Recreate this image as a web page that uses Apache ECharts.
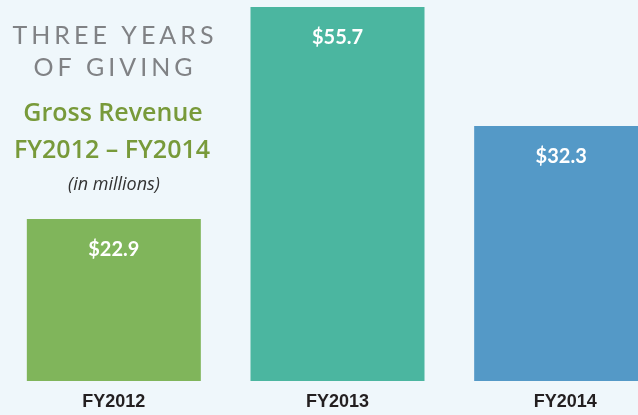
<!DOCTYPE html>
<html>
<head>
<meta charset="utf-8">
<script src="https://cdn.jsdelivr.net/npm/echarts@6/dist/echarts.min.js"></script>
<style>
html,body{margin:0;padding:0;background:#eff7fb;}
#c{width:638px;height:415px;}
</style>
</head>
<body>
<div id="c"></div>
<script>
// Data
var categories = ['FY2012', 'FY2013', 'FY2014'];
var revenue = [22.9, 55.7, 32.3];          // labelled values ($ millions)
var barHeights = [162, 374, 255];          // drawn bar heights (relative units)
var barColors = ['#80b55b', '#4bb6a0', '#5499c7'];
var titleLines = ['THREE YEARS', 'OF GIVING'];
var subtitleLines = ['Gross Revenue', 'FY2012 \u2013 FY2014'];
var noteText = '(in millions)';

function spaced(str) {
  return str.split('').map(function (ch) { return '{s|' + ch + '}'; }).join('');
}

var chart = echarts.init(document.getElementById('c'), null, {renderer: 'canvas'});

var titleRich = { s: { fontFamily: 'Lato', fontSize: 25, fill: '#808285', padding: [0, 2] } };

var option = {
  backgroundColor: '#eff7fb',
  animation: false,
  grid: { left: 2, width: 671, top: 7, bottom: 34, containLabel: false, outerBoundsMode: 'none' },
  xAxis: {
    type: 'category',
    data: categories.map(function (c, i) {
      return i === 2 ? { value: c, textStyle: { padding: [0, 0, 0, 8] } } : c;
    }),
    axisLine: { show: false },
    axisTick: { show: false },
    axisLabel: {
      margin: 12,
      fontFamily: 'Liberation Sans',
      fontWeight: 'bold',
      fontSize: 18,
      color: '#231f20'
    }
  },
  yAxis: {
    type: 'value', min: 0, max: 374,
    show: false,
    splitLine: { show: false }
  },
  series: [{
    type: 'bar',
    barWidth: 174,
    data: barHeights.map(function (h, i) {
      return { value: h, itemStyle: { color: barColors[i] } };
    }),
    label: {
      show: true,
      position: 'insideTop',
      distance: 21,
      formatter: function (p) { return '$' + revenue[p.dataIndex].toFixed(1); },
      color: '#ffffff',
      fontFamily: 'Lato',
      fontWeight: 'bold',
      fontSize: 20
    }
  }],
  graphic: [
    {
      type: 'text',
      style: {
        text: spaced(titleLines[0]),
        x: 113, y: 36, align: 'center', verticalAlign: 'middle',
        rich: titleRich
      }
    },
    {
      type: 'text',
      style: {
        text: spaced(titleLines[1]),
        x: 113, y: 68, align: 'center', verticalAlign: 'middle',
        rich: titleRich
      }
    },
    {
      type: 'text',
      style: {
        text: subtitleLines[0], x: 113, y: 114, align: 'center', verticalAlign: 'middle',
        font: '600 25px "Open Sans"', fill: '#789a3a'
      }
    },
    {
      type: 'text',
      style: {
        text: subtitleLines[1], x: 112, y: 151, align: 'center', verticalAlign: 'middle',
        font: '600 25px "Open Sans"', fill: '#789a3a'
      }
    },
    {
      type: 'text',
      style: {
        text: noteText, x: 114, y: 185, align: 'center', verticalAlign: 'middle',
        font: 'italic 18px "Open Sans"', fill: '#333333'
      }
    }
  ]
};
chart.setOption(option);
</script>
</body>
</html>
